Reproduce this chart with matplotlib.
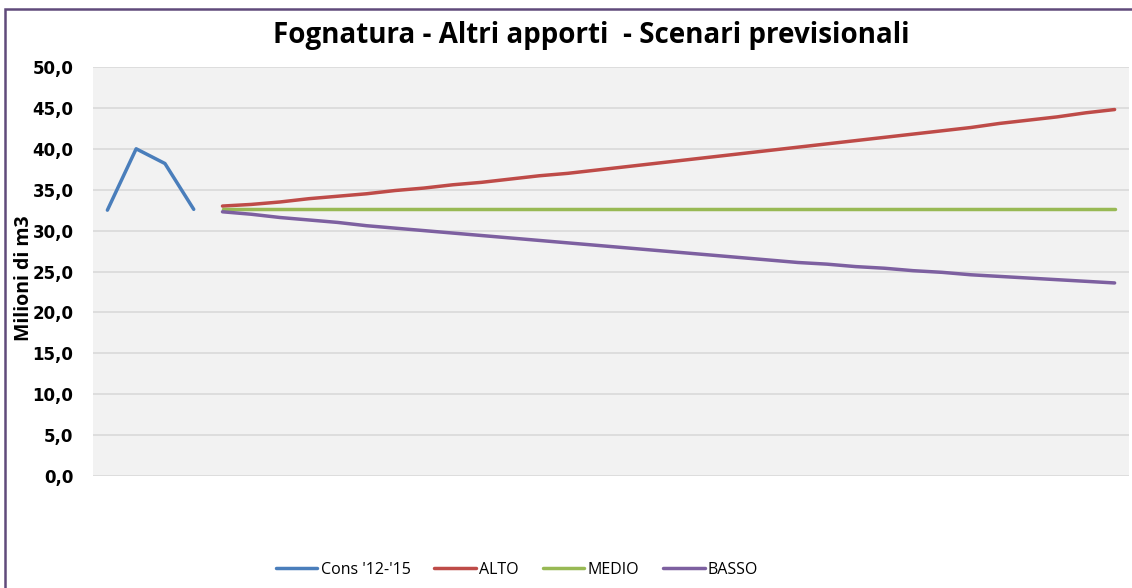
import numpy as np
import matplotlib.pyplot as plt
from matplotlib.patches import Rectangle

# Data
years = list(range(2012, 2048))
cons_idx = [0, 1, 2, 3]
cons = [32.5, 40.0, 38.2, 32.6]

scen_idx = list(range(4, 36))
alto = [33.0, 33.2, 33.5, 33.9, 34.2, 34.5, 34.9, 35.2, 35.6, 35.9, 36.3, 36.7,
        37.0, 37.4, 37.8, 38.2, 38.6, 39.0, 39.4, 39.8, 40.2, 40.6, 41.0, 41.4,
        41.8, 42.2, 42.6, 43.1, 43.5, 43.9, 44.4, 44.8]
medio = [32.6] * 32
basso = [32.3, 32.0, 31.6, 31.3, 31.0, 30.6, 30.3, 30.0, 29.7, 29.4, 29.1, 28.8,
         28.5, 28.2, 27.9, 27.6, 27.3, 27.0, 26.7, 26.4, 26.1, 25.9, 25.6, 25.4,
         25.1, 24.9, 24.6, 24.4, 24.2, 24.0, 23.8, 23.6]

labels = ["Cons '12-'15", "ALTO", "MEDIO", "BASSO"]
colors = ["#4a7ebb", "#be4b48", "#98b954", "#7d60a0"]
yticks = np.arange(0, 55, 5)

plt.rcParams['font.family'] = ['Open Sans', 'DejaVu Sans']

fig = plt.figure(figsize=(11.32, 5.88), dpi=100)
ax = fig.add_axes([93/1132, 112/588, 1036/1132, 409/588])
ax.set_facecolor("#f2f2f2")

lw = 2.5
ax.plot(cons_idx, cons, color=colors[0], lw=lw, solid_capstyle='round', label=labels[0])
ax.plot(scen_idx, alto, color=colors[1], lw=lw, solid_capstyle='round', label=labels[1])
ax.plot(scen_idx, medio, color=colors[2], lw=lw, solid_capstyle='round', label=labels[2])
ax.plot(scen_idx, basso, color=colors[3], lw=lw, solid_capstyle='round', label=labels[3])

ax.set_xlim(-0.5, len(years) - 0.5)
ax.set_ylim(0, 50)
ax.set_yticks(yticks)
ax.set_yticklabels([f"{v:.1f}".replace(".", ",") for v in yticks],
                   fontsize=12, fontweight='bold', family='DejaVu Sans')
ax.set_xticks([])
ax.tick_params(axis='y', length=0, pad=14)
ax.grid(axis='y', color='#d9d9d9', lw=1.2)
ax.set_axisbelow(True)
for s in ax.spines.values():
    s.set_visible(False)

fig.text(24/1132, 1 - 278/588, "Milioni di m3", rotation=90, ha='center', va='center',
         fontsize=14, fontweight='bold')
fig.text(591/1132, 1 - 35/588, "Fognatura - Altri apporti  - Scenari previsionali",
         ha='center', va='center', fontsize=20, fontweight='bold')

leg = fig.legend(loc='center', bbox_to_anchor=(517/1132, 1 - 570/588), ncol=4,
                 frameon=False, fontsize=11.5, handlelength=2.6, handletextpad=0.2,
                 columnspacing=1.5)

# chart border (cropped at right and bottom)
fig.patches.append(Rectangle((5/1132, -0.05), 1.2, 1 - 9/588 + 0.05,
                             transform=fig.transFigure, fill=False,
                             edgecolor='#604a7b', lw=1.8))

fig.savefig("out.png", dpi=100)
